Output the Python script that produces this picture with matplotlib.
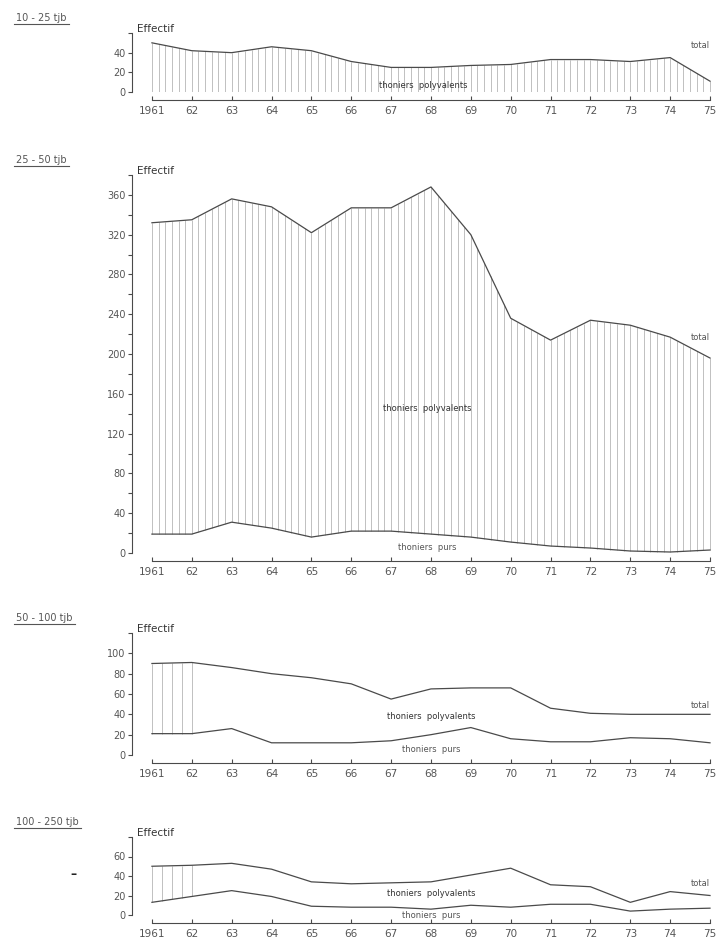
import numpy as np
import matplotlib.pyplot as plt
from matplotlib.lines import Line2D
from matplotlib.transforms import IdentityTransform

years = np.arange(1961, 1976)
year_labels = ['1961', '62', '63', '64', '65', '66', '67', '68',
               '69', '70', '71', '72', '73', '74', '75']

# 10 - 25 tjb
p1_total = [50, 42, 40, 46, 42, 31, 25, 25, 27, 28, 33, 33, 31, 35, 11]
p1_yticks = [0, 20, 40, 60]
p1_ylabels = ['0', '20', '40', '']

# 25 - 50 tjb
p2_total = [332, 335, 356, 348, 322, 347, 347, 368, 320, 236, 214, 234, 229, 217, 196]
p2_purs = [19, 19, 31, 25, 16, 22, 22, 19, 16, 11, 7, 5, 2, 1, 3]
p2_yticks = [0, 40, 80, 120, 160, 200, 240, 280, 320, 360]
p2_ylabels = ['0', '40', '80', '120', '160', '200', '240', '280', '320', '360']
p2_minor = [20, 60, 100, 140, 180, 220, 260, 300, 340, 380]

# 50 - 100 tjb
p3_total = [90, 91, 86, 80, 76, 70, 55, 65, 66, 66, 46, 41, 40, 40, 40]
p3_purs = [21, 21, 26, 12, 12, 12, 14, 20, 27, 16, 13, 13, 17, 16, 12]
p3_yticks = [0, 20, 40, 60, 80, 100, 120]
p3_ylabels = ['0', '20', '40', '60', '80', '100', '']

# 100 - 250 tjb
p4_total = [50, 51, 53, 47, 34, 32, 33, 34, 41, 48, 31, 29, 13, 24, 20]
p4_purs = [13, 19, 25, 19, 9, 8, 8, 6, 10, 8, 11, 11, 4, 6, 7]
p4_yticks = [0, 20, 40, 60, 80]
p4_ylabels = ['0', '20', '40', '60', '']

INK = '#4a4a4a'
HATCH = '#b5b5b5'
TXT = '#555555'

W, H = 717, 941
fig = plt.figure(figsize=(W / 100, H / 100), dpi=100)


def add_box(top, bottom, left=132, right=714):
    return fig.add_axes([left / W, 1 - bottom / H, (right - left) / W, (bottom - top) / H])


panels = [
    dict(title='10 - 25 tjb', box=(33, 92), total=p1_total, purs=None, ytop=60,
         yticks=p1_yticks, ylabels=p1_ylabels, minor=None, hatch_end=1975,
         total_lbl=47, poly_lbl=(1967.8, 7), purs_lbl=None),
    dict(title='25 - 50 tjb', box=(175, 553), total=p2_total, purs=p2_purs, ytop=380,
         yticks=p2_yticks, ylabels=p2_ylabels, minor=p2_minor, hatch_end=1975,
         total_lbl=217, poly_lbl=(1967.9, 145), purs_lbl=(1967.9, 6)),
    dict(title='50 - 100 tjb', box=(633, 755), total=p3_total, purs=p3_purs, ytop=120,
         yticks=p3_yticks, ylabels=p3_ylabels, minor=None, hatch_end=1962,
         total_lbl=49, poly_lbl=(1968.0, 38), purs_lbl=(1968.0, 5)),
    dict(title='100 - 250 tjb', box=(837, 915), total=p4_total, purs=p4_purs, ytop=80,
         yticks=p4_yticks, ylabels=p4_ylabels, minor=None, hatch_end=1962,
         total_lbl=32, poly_lbl=(1968.0, 22), purs_lbl=(1968.0, 0)),
]

titles = []
axes = []
for p in panels:
    ax = add_box(*p['box'])
    axes.append(ax)
    total = np.array(p['total'], dtype=float)
    purs = np.zeros_like(total) if p['purs'] is None else np.array(p['purs'], dtype=float)

    # vertical hatching of the "thoniers polyvalents" band
    step = 1 / 6 if p['hatch_end'] == 1975 else 1 / 4
    hx = np.arange(1961, p['hatch_end'] + 1e-6, step)
    ax.vlines(hx, np.interp(hx, years, purs), np.interp(hx, years, total),
              color=HATCH, lw=0.6, zorder=1)

    ax.plot(years, total, color=INK, lw=0.9, zorder=3)
    if p['purs'] is not None:
        ax.plot(years, purs, color=INK, lw=0.9, zorder=3)

    ax.set_xlim(1960.5, 1975.1)
    ax.set_ylim(0, p['ytop'])
    for s in ('top', 'right'):
        ax.spines[s].set_visible(False)
    ax.spines['left'].set_color(INK)
    ax.spines['left'].set_linewidth(0.8)
    ax.spines['bottom'].set_color(INK)
    ax.spines['bottom'].set_linewidth(0.8)
    ax.spines['bottom'].set_position(('outward', 6))
    ax.spines['bottom'].set_bounds(1961, 1975)

    ax.set_xticks(years)
    ax.set_xticklabels(year_labels)
    ax.set_yticks(p['yticks'])
    ax.set_yticklabels(p['ylabels'])
    if p['minor'] is not None:
        ax.set_yticks(p['minor'], minor=True)
    ax.tick_params(axis='x', direction='in', length=3, width=0.8, pad=4,
                   labelsize=7.5, colors=INK, labelcolor=TXT)
    ax.tick_params(axis='y', which='both', direction='out', length=3, width=0.8,
                   pad=1.5, labelsize=7, colors=INK, labelcolor=TXT)

    ax.annotate('Effectif', xy=(0, 1), xycoords='axes fraction', xytext=(5, 4),
                textcoords='offset pixels', ha='left', va='center',
                fontsize=7.5, color='#333333')
    ax.text(1975.0, p['total_lbl'], 'total', ha='right', va='center',
            fontsize=6, color=TXT)
    ax.text(p['poly_lbl'][0], p['poly_lbl'][1], 'thoniers  polyvalents',
            ha='center', va='center', fontsize=6, color='#333333', zorder=4)
    if p['purs_lbl'] is not None:
        ax.text(p['purs_lbl'][0], p['purs_lbl'][1], 'thoniers  purs',
                ha='center', va='center', fontsize=6, color=TXT, zorder=4)

    t = ax.annotate(p['title'], xy=(0, 1), xycoords='axes fraction',
                    xytext=(-116, 15), textcoords='offset pixels',
                    ha='left', va='center', fontsize=7, color=TXT)
    titles.append(t)

# stray mark left of the last panel
axes[3].text(-0.1, 42, '\u2013', transform=axes[3].get_yaxis_transform(),
             ha='center', va='center', fontsize=9, fontweight='bold', color='#222222')

# underline the size-class titles
fig.canvas.draw()
renderer = fig.canvas.get_renderer()
for t in titles:
    bb = t.get_window_extent(renderer)
    fig.add_artist(Line2D([bb.x0 - 2, bb.x1 + 2], [bb.y0 - 1, bb.y0 - 1],
                          transform=IdentityTransform(), color=TXT, lw=0.8))

fig.savefig('out.png', dpi=100)
